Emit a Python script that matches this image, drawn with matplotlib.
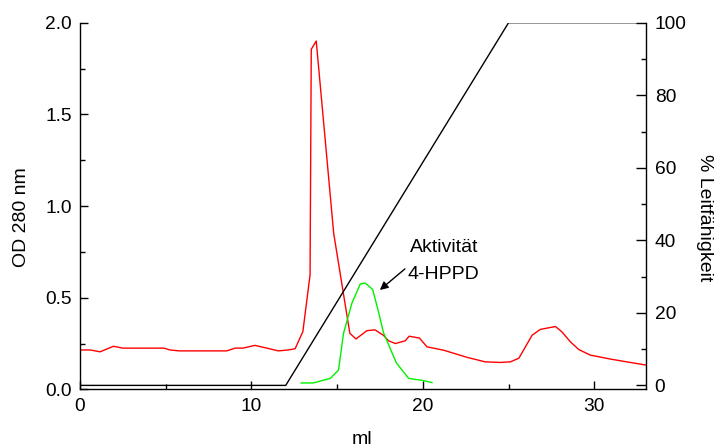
# -*- coding: utf-8 -*-
"""
Elutionsprofil: OD 280 nm (rot), Aktivität 4-HPPD (grün), Gradient % Leitfähigkeit (schwarz).
"""

import matplotlib
matplotlib.use("Agg")
import matplotlib.pyplot as plt
from matplotlib.ticker import MultipleLocator, FormatStrFormatter

plt.rcParams["font.family"] = ["Liberation Sans", "DejaVu Sans"]

# OD 280 nm
od_ml = [0, 0.6, 1.17, 1.95, 2.5, 3.5, 4.2, 4.9, 5.25, 5.8, 8.56, 9.05, 9.5,
         10.2, 10.9, 11.57, 12.15, 12.55, 13.0, 13.42, 13.49, 13.78, 14.8,
         15.74, 16.1, 16.73, 17.2, 17.7, 18.0, 18.4, 18.97, 19.2, 19.8, 20.24,
         21.2, 22.57, 23.64, 24.5, 25.1, 25.6, 26.37, 26.85, 27.73, 28.1, 28.6,
         29.1, 29.77, 30.9, 31.9, 33.0]
od_val = [0.215, 0.215, 0.205, 0.235, 0.225, 0.225, 0.225, 0.225, 0.215, 0.21,
          0.21, 0.225, 0.225, 0.24, 0.225, 0.21, 0.215, 0.222, 0.315, 0.624,
          1.855, 1.90, 0.85, 0.306, 0.275, 0.32, 0.325, 0.295, 0.265, 0.25,
          0.265, 0.29, 0.28, 0.232, 0.214, 0.175, 0.15, 0.147, 0.15, 0.17,
          0.295, 0.327, 0.343, 0.315, 0.26, 0.217, 0.187, 0.166, 0.15, 0.133]

# Aktivität 4-HPPD (auf OD-Achse)
act_ml = [12.9, 13.6, 14.6, 15.08, 15.37, 15.86, 16.35, 16.64, 17.07, 17.42,
          17.7, 18.45, 19.17, 20.04, 20.53]
act_val = [0.035, 0.035, 0.06, 0.105, 0.305, 0.47, 0.575, 0.58, 0.545, 0.42,
           0.31, 0.145, 0.06, 0.048, 0.037]

# Gradient % Leitfähigkeit
grad_ml = [0, 12.0, 25.0, 33.0]
grad_pct = [0, 0, 100, 100]

fig = plt.figure(figsize=(7.15, 4.47), dpi=100)
ax = fig.add_axes([0.1119, 0.1289, 0.7912, 0.8203])
ax2 = ax.twinx()

ax.plot(od_ml, od_val, color="#ff0000", lw=1.0)
ax.plot(act_ml, act_val, color="#00f000", lw=1.0)
ax2.plot(grad_ml, grad_pct, color="black", lw=1.0)

ax.set_xlim(0, 33)
ax.set_ylim(0, 2.0)
ax2.set_ylim(-1.1, 100)

ax.xaxis.set_major_locator(MultipleLocator(10))
ax.xaxis.set_minor_locator(MultipleLocator(5))
ax.yaxis.set_major_locator(MultipleLocator(0.5))
ax.yaxis.set_minor_locator(MultipleLocator(0.25))
ax.yaxis.set_major_formatter(FormatStrFormatter("%.1f"))
ax2.yaxis.set_major_locator(MultipleLocator(20))
ax2.yaxis.set_minor_locator(MultipleLocator(10))

for a in (ax, ax2):
    a.spines["top"].set_visible(False)
    for s in a.spines.values():
        s.set_linewidth(1.0)
ax.spines["right"].set_visible(False)
ax2.spines["left"].set_visible(False)
ax2.spines["bottom"].set_visible(False)

ax.tick_params(which="both", direction="in", labelsize=13.8, pad=6, width=1.0)
ax.tick_params(which="major", length=6)
ax.tick_params(which="minor", length=3.5)
ax.tick_params(axis="x", which="both", top=False)
ax2.tick_params(which="both", direction="in", labelsize=13.8, pad=6.5, width=1.0)
ax2.tick_params(which="major", length=7)
ax2.tick_params(which="minor", length=3.5)

# Achsentitel direkt in Figurkoordinaten
fig.text(22 / 715, 1 - 217.5 / 447, "OD 280 nm", rotation=90,
         ha="center", va="center", fontsize=14)
fig.text(705 / 715, 1 - 218 / 447, "% Leitfähigkeit", rotation=270,
         ha="center", va="center", fontsize=14)
fig.text(362 / 715, 1 - 444 / 447, "ml", ha="center", va="baseline", fontsize=14)

# Beschriftung + Pfeil zur Aktivität
ax.text(19.24, 0.75, "Aktivität", fontsize=14, ha="left", va="baseline")
ax.text(19.1, 0.602, "4-HPPD", fontsize=14, ha="left", va="baseline")
ax.annotate("", xy=(17.49, 0.542), xytext=(18.95, 0.657),
            arrowprops=dict(arrowstyle="-|>", color="black", lw=1.0,
                            mutation_scale=12, shrinkA=0, shrinkB=0))

fig.savefig("out.png", dpi=100)
